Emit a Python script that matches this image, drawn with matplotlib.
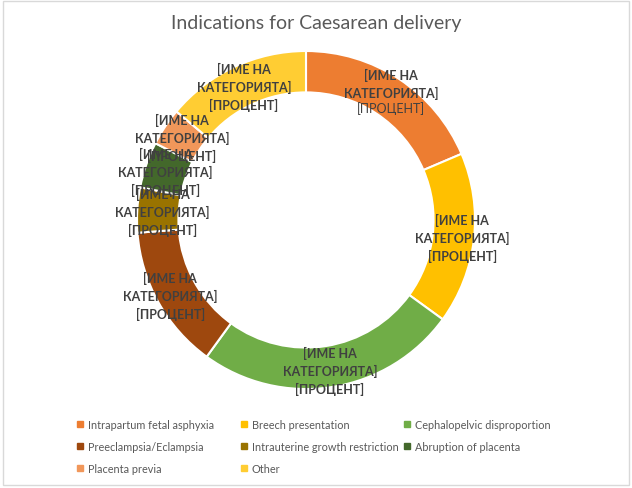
import numpy as np
import matplotlib
matplotlib.use("Agg")
import matplotlib.pyplot as plt
from matplotlib.patches import Rectangle

# данни (оценени от картинката)
categories = ["Intrapartum fetal asphyxia", "Breech presentation", "Cephalopelvic disproportion",
              "Preeclampsia/Eclampsia", "Intrauterine growth restriction", "Abruption of placenta",
              "Placenta previa", "Other"]
values = [18.6, 16.4, 25.0, 13.8, 4.3, 4.4, 3.6, 13.9]
colors = ["#ED7D31", "#FFC000", "#70AD47", "#9E480E", "#997300", "#43682B", "#F1975A", "#FFCD33"]
label_text = "[ИМЕ НА\nКАТЕГОРИЯТА]\n[ПРОЦЕНТ]"
label_r = [0.91, 0.93, 0.90, 0.92, 0.85, 0.88, 0.88, 0.87]

plt.rcParams["font.family"] = ["Lato", "DejaVu Sans"]

W, H = 632, 489
fig = plt.figure(figsize=(W / 100, H / 100), dpi=100)
fig.patches.append(Rectangle((0.004, 0.006), 0.992, 0.99, transform=fig.transFigure,
                             fill=False, edgecolor="#D9D9D9", linewidth=1))

cx, cy, R = 306, 221, 169
ax = fig.add_axes([(cx - R) / W, (H - cy - R) / H, 2 * R / W, 2 * R / H])
wedges, _ = ax.pie(values, colors=colors, startangle=90, counterclock=False, radius=1,
                   wedgeprops=dict(width=0.245, edgecolor="white", linewidth=1.5))
ax.set_xlim(-1, 1)
ax.set_ylim(-1, 1)
ax.axis("off")

# надписи на сегментите
for i, w in enumerate(wedges):
    mid = np.deg2rad((w.theta1 + w.theta2) / 2)
    x, y = label_r[i] * np.cos(mid), label_r[i] * np.sin(mid)
    if i == 0:
        ax.text(x, y + 0.05, "[ИМЕ НА\nКАТЕГОРИЯТА]", ha="center", va="center", fontsize=9,
                fontweight="bold", color="#404040", linespacing=1.45)
        ax.text(x, y - 0.095, "[ПРОЦЕНТ]", ha="center", va="center", fontsize=9,
                color="#404040")
    else:
        ax.text(x, y, label_text, ha="center", va="center", fontsize=9, fontweight="bold",
                color="#404040", linespacing=1.45)

fig.text(0.5, 1 - 24 / H, "Indications for Caesarean delivery", ha="center", va="center",
         fontsize=14, color="#595959")

# легенда: три колони с еднаква ширина, като в Excel
col_x = [72, 236, 399]
for c in range(3):
    idx = list(range(c, len(categories), 3))
    handles = [plt.Rectangle((0, 0), 1, 1, color=colors[i]) for i in idx]
    leg = fig.legend(handles, [categories[i] for i in idx], loc="upper left",
                     bbox_to_anchor=(col_x[c] / W, 1 - 414.5 / H), frameon=False,
                     fontsize=7.8, labelcolor="#595959", handlelength=0.5, handleheight=0.5,
                     handletextpad=0.45, labelspacing=1.0, borderpad=0)

fig.savefig("out.png", dpi=100)
